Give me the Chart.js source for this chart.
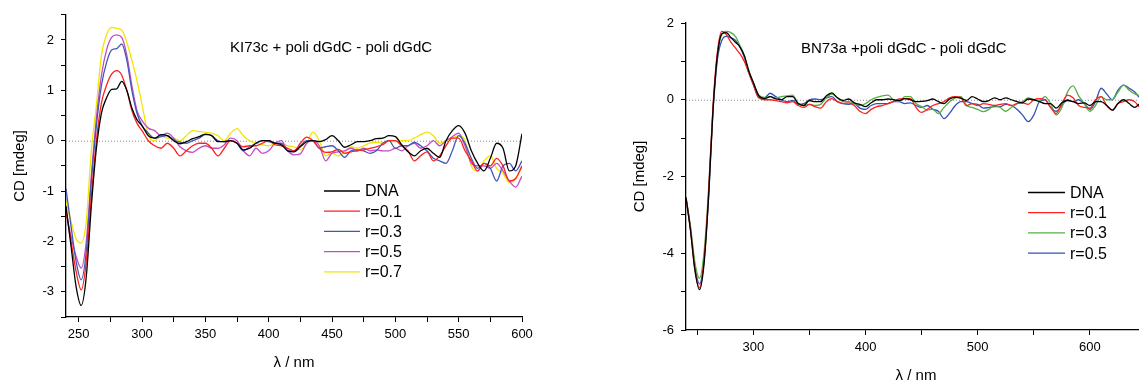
<!DOCTYPE html>
<html>
<head>
<meta charset="utf-8">
<script src="https://cdn.jsdelivr.net/npm/chart.js@4.4.1/dist/chart.umd.min.js"></script>
<style>
html, body { margin: 0; padding: 0; background: #fff; overflow: hidden; width: 1139px; height: 385px; }
canvas { position: absolute; top: 0; }
#leftChart { left: 0; }
#rightChart { left: 600px; }
</style>
</head>
<body>
<canvas id="leftChart" width="560" height="385"></canvas>
<canvas id="rightChart" width="560" height="385"></canvas>
<script>
// ---- left panel: KI73c ----
const wlLeft = [240,244,248,252,256,260,264,268,272,276,280,284,288,292,296,300,
  305,310,315,320,325,330,335,340,345,350,355,360,365,370,375,380,385,390,395,400,
  405,410,415,420,425,430,435,440,445,450,455,460,465,470,475,480,485,490,495,500,
  505,510,515,520,525,530,535,540,545,550,555,560,565,570,575,580,585,590,595,600];
const seriesLeft = ['DNA', 'r=0.1', 'r=0.3', 'r=0.5', 'r=0.7'];
const xTicksLeft = [250,275,300,325,350,375,400,425,450,475,500,525,550,575,600];
const xLabelsLeft = [250,300,350,400,450,500,550,600];
const yTicksLeft = [-3.5,-3,-2.5,-2,-1.5,-1,-0.5,0,0.5,1,1.5,2,2.5];
const yLabelsLeft = [-3,-2,-1,0,1,2];

const dnaLeft = [-1.3,-2.1,-2.9,-3.27,-2.7,-1.3,-0.15,0.55,0.85,1.02,1.03,1.18,1.0,0.65,0.42,0.3,
  0.1,0.05,0.12,0.1,0.0, -0.06,-0.02,0.04,0.08,0.13, 0.1,-0.02,-0.02,0.0,-0.05, -0.18,-0.15,-0.05,0.0,0.0,
  -0.05,-0.08,-0.2,-0.22,-0.12, -0.02,0.0,-0.02,0.02,0.1, 0.0,-0.13,-0.08,-0.02,-0.02, 0.0,0.04,0.05,0.1,0.08,
  -0.08,-0.22,-0.3,-0.2,-0.15, -0.25,-0.33,0.0,0.2,0.3, 0.15,-0.2,-0.45,-0.6,-0.35, -0.05,-0.15,-0.6,-0.5,0.14];
const r01Left = [-1.4,-2.0,-2.6,-2.96,-2.4,-1.1,0.0,0.75,1.1,1.32,1.39,1.3,1.0,0.6,0.35,0.2,
  0.0,-0.1,-0.15,-0.05,-0.15, -0.3,-0.2,-0.1,-0.05,-0.05, -0.15,-0.3,-0.15,0.0,-0.05, -0.12,-0.1,-0.1,-0.05,0.0,
  -0.08,-0.1,-0.15,-0.2,-0.05, 0.07,0.0,-0.15,-0.23,-0.22, -0.17,-0.25,-0.22,-0.2,-0.18, -0.15,-0.12,-0.08,0.0,0.0,
  -0.1,-0.2,-0.4,-0.3,-0.22, -0.4,-0.3,-0.1,0.05,0.05, -0.2,-0.4,-0.6,-0.45,-0.5, -0.35,-0.5,-0.8,-0.75,-0.5];
const r03Left = [-0.95,-1.7,-2.4,-2.76,-2.2,-0.8,0.3,1.1,1.55,1.8,1.83,1.92,1.6,1.0,0.55,0.3,
  0.15,0.05,0.08,0.1,0.02, -0.03,-0.05,0.0,0.05,0.12, 0.1,0.0,-0.02,0.0,-0.05, -0.2,-0.12,-0.05,0.0,-0.02,
  -0.05,-0.05,-0.2,-0.2,-0.1, 0.0,0.0,-0.15,-0.12,-0.1, -0.2,-0.33,-0.2,-0.18,-0.2, -0.25,-0.2,-0.05,0.0,-0.15,
  -0.1,-0.1,-0.03,-0.1,-0.2, -0.35,-0.4,-0.45,-0.2,0.1, -0.05,-0.35,-0.55,-0.45,-0.55, -0.8,-0.5,-0.45,-0.6,-0.4];
const r05Left = [-1.4,-1.9,-2.3,-2.53,-2.0,-0.7,0.45,1.3,1.8,2.05,2.1,2.05,1.7,1.1,0.6,0.4,
  0.25,0.2,0.1,0.15,0.05, -0.12,-0.2,-0.23,-0.15,-0.1, -0.15,-0.15,-0.08,0.05,0.0, -0.2,-0.3,-0.15,-0.25,-0.2,
  -0.05,0.0,-0.2,-0.28,-0.26, -0.05,0.0,-0.1,-0.4,-0.25, -0.22,-0.2,-0.15,-0.2,-0.15, -0.2,-0.18,-0.2,-0.2,-0.15,
  -0.2,-0.1,-0.05,-0.15,-0.1, 0.0,-0.1,0.0,0.08,0.15, -0.1,-0.45,-0.5,-0.5,-0.55, -0.45,-0.6,-0.8,-0.92,-0.7];
const r07Left = [-1.21,-1.6,-1.95,-2.03,-1.6,-0.2,0.7,1.7,2.1,2.25,2.23,2.2,1.95,1.6,1.2,0.72,
  0.12,0.0,0.1,0.05,0.05, 0.0,0.1,0.2,0.18,0.17, 0.15,0.1,0.0,0.15,0.24, 0.1,0.0,-0.05,-0.08,-0.1,
  -0.06,-0.06,-0.1,-0.12,-0.18, -0.05,0.17,0.0,-0.3,-0.25, -0.3,-0.22,-0.12,-0.15,-0.1, -0.05,-0.03,-0.05,0.0,-0.02,
  0.0,0.0,0.05,0.12,0.17, 0.1,-0.05,0.0,0.05,0.1, 0.0,-0.5,-0.6,-0.4,-0.3, -0.55,-0.65,-0.83,-0.75,-0.52];

// ---- right panel: BN73a ----
const wlRight = [240,244,248,252,256,260,264,268,272,276,280,284,288,292,296,300,
  305,310,315,320,325,330,335,340,345,350,355,360,365,370,375,380,385,390,395,400,
  405,410,415,420,425,430,435,440,445,450,455,460,465,470,475,480,485,490,495,500,
  505,510,515,520,525,530,535,540,545,550,555,560,565,570,575,580,585,590,595,600,
  605,610,615,620,625,630,635,640,645,650];
const seriesRight = ['DNA', 'r=0.1', 'r=0.3', 'r=0.5'];
const xTicksRight = [250,300,350,400,450,500,550,600,650];
const xLabelsRight = [300,400,500,600];
const yTicksRight = [-6,-5,-4,-3,-2,-1,0,1,2];
const yLabelsRight = [-6,-4,-2,0,2];

const dnaRight = [-2.55,-3.4,-4.45,-4.95,-4.3,-2.6,-0.3,1.15,1.72,1.75,1.62,1.5,1.38,1.15,0.75,0.45,
  0.1,0.03,0.08,0.02,0.0, 0.08,0.08,-0.1,-0.15,-0.02, -0.05,-0.05,0.1,0.18,0.05, -0.02,0.02,-0.08,-0.12,-0.18,
  -0.08,0.0,0.0,0.02,0.0, -0.02,0.03,0.0,-0.05,-0.04, -0.02,0.02,-0.05,-0.1,0.02, 0.06,0.04,-0.02,0.08,0.02,
  -0.05,-0.02,0.05,0.0,0.05, 0.0,-0.05,-0.08,0.02,0.0, -0.05,-0.1,-0.1,-0.22,-0.08, -0.02,-0.05,-0.1,-0.08,-0.15,
  -0.05,-0.05,-0.15,-0.27,-0.1, 0.0,-0.1,-0.2,-0.1,-0.15];
const r01Right = [-2.55,-3.4,-4.45,-4.9,-4.2,-2.5,-0.2,1.25,1.78,1.7,1.5,1.35,1.2,1.0,0.7,0.4,
  0.05,0.0,0.0,-0.02,-0.05, -0.08,-0.05,-0.15,-0.2,-0.12, -0.18,-0.22,-0.05,0.03,-0.05, -0.1,-0.08,-0.15,-0.3,-0.36,
  -0.25,-0.18,-0.15,-0.1,-0.05, 0.02,0.03,0.03,-0.2,-0.33, -0.25,-0.15,-0.1,-0.05,0.05, 0.08,0.05,-0.15,-0.1,-0.15,
  -0.1,-0.12,-0.15,-0.12,-0.1, -0.15,-0.1,-0.08,-0.12,0.0, 0.03,0.0,-0.2,-0.36,-0.1, 0.12,0.05,-0.15,-0.2,-0.22,
  0.0,0.08,-0.15,-0.27,-0.1, -0.05,0.0,-0.05,-0.2,-0.1];
const r03Right = [-2.55,-3.3,-4.25,-4.65,-4.0,-2.4,-0.25,1.2,1.7,1.78,1.75,1.65,1.42,1.15,0.75,0.45,
  0.12,0.06,0.08,0.05,0.08, 0.1,0.12,-0.1,-0.15,-0.12, -0.15,-0.12,0.05,0.15,0.05, -0.05,-0.05,-0.1,-0.15,-0.1,
  0.0,0.06,0.1,0.12,0.0, -0.05,0.08,0.08,-0.1,-0.18, -0.27,-0.25,-0.36,-0.2,-0.05, 0.05,0.08,-0.15,-0.2,-0.25,
  -0.31,-0.25,-0.15,-0.2,-0.3, -0.2,-0.1,-0.05,0.05,0.0, -0.02,0.08,-0.1,-0.4,-0.2, 0.2,0.36,0.1,-0.1,-0.3,
  -0.15,0.08,0.0,0.0,0.2, 0.38,0.25,0.15,0.1,0.0];
const r05Right = [-2.55,-3.35,-4.35,-4.8,-4.2,-2.6,-0.35,1.05,1.55,1.65,1.62,1.55,1.38,1.1,0.7,0.4,
  0.05,0.05,0.17,0.08,0.0, -0.05,-0.02,-0.12,-0.1,0.0, 0.02,0.0,0.05,0.08,-0.05, -0.1,-0.12,-0.1,-0.22,-0.25,
  -0.15,-0.1,-0.1,-0.1,-0.05, -0.05,-0.1,-0.08,-0.15,-0.2, -0.15,-0.25,-0.3,-0.49,-0.35, -0.15,-0.05,-0.05,-0.1,-0.12,
  -0.22,-0.2,-0.18,-0.18,-0.12, -0.15,-0.25,-0.4,-0.57,-0.4, -0.05,0.0,-0.2,-0.3,-0.15, 0.0,-0.05,0.0,-0.1,-0.25,
  -0.05,0.3,0.15,0.0,0.25, 0.38,0.3,0.2,0.05,0.1];

const FONT = 'Arial, "Liberation Sans", sans-serif';
Chart.defaults.font.family = FONT;
Chart.defaults.color = '#000';

function pairs(xs, ys) {
    return xs.map((x, i) => ({ x: x, y: ys[i] }));
}

function makeDatasets(xs, names, values, colors) {
    return names.map((name, i) => ({
        label: name,
        data: pairs(xs, values[i]),
        borderColor: colors[i],
        backgroundColor: colors[i],
        borderWidth: 1.3,
        pointRadius: 0,
        fill: false,
        cubicInterpolationMode: 'monotone'
    }));
}

// zero line, title text and the line legend inside the plot
const decorPlugin = {
    id: 'decor',
    beforeDatasetsDraw(chart, args, opts) {
        const ctx = chart.ctx;
        const area = chart.chartArea;
        const y0 = chart.scales.y.getPixelForValue(0);
        ctx.save();
        ctx.strokeStyle = '#8a8a8a';
        ctx.lineWidth = 1;
        ctx.setLineDash([1, 2]);
        ctx.beginPath();
        ctx.moveTo(area.left, y0 + 0.5);
        ctx.lineTo(area.right, y0 + 0.5);
        ctx.stroke();
        ctx.restore();
    },
    afterDatasetsDraw(chart, args, opts) {
        const ctx = chart.ctx;
        ctx.save();
        ctx.fillStyle = '#000';
        ctx.textBaseline = 'middle';
        ctx.textAlign = 'left';
        ctx.font = '15px ' + FONT;
        ctx.fillText(opts.title, opts.titleX, opts.titleY);
        ctx.font = '16px ' + FONT;
        chart.data.datasets.forEach((ds, i) => {
            const y = opts.rowY + i * opts.rowGap;
            ctx.strokeStyle = ds.borderColor;
            ctx.lineWidth = 1.3;
            ctx.beginPath();
            ctx.moveTo(opts.lineX1, y);
            ctx.lineTo(opts.lineX2, y);
            ctx.stroke();
            ctx.fillText(ds.label, opts.textX, y + 1);
        });
        ctx.restore();
    }
};

function axis(min, max, tickValues, labelValues, titleText, titlePad, isX, size) {
    return {
        type: 'linear',
        min: min,
        max: max,
        border: { color: '#000', width: 1.3 },
        grid: { drawOnChartArea: false, drawTicks: true, tickLength: 5, tickColor: '#000', tickWidth: 1 },
        afterBuildTicks: function(s) { s.ticks = tickValues.map(v => ({ value: v })); },
        ticks: {
            autoSkip: false,
            maxRotation: 0,
            padding: isX ? 5 : 7,
            color: '#000',
            font: { size: 13 },
            callback: function(v) { return labelValues.indexOf(v) >= 0 ? String(v) : ''; }
        },
        title: {
            display: true, text: titleText, color: '#000', font: { size: 15 },
            padding: isX ? { top: 0, bottom: titlePad } : { top: titlePad, bottom: 0 }
        },
        afterFit: function(s) { if (isX) { s.height = size; } else { s.width = size; } }
    };
}

new Chart(document.getElementById('leftChart'), {
    type: 'line',
    data: {
        datasets: makeDatasets(wlLeft, seriesLeft,
            [dnaLeft, r01Left, r03Left, r05Left, r07Left],
            ['#000000', '#ff2020', '#4257b8', '#c24cc2', '#f2e600'])
    },
    options: {
        responsive: false,
        animation: false,
        layout: { padding: { left: 0, right: 38, top: 14, bottom: 0 } },
        plugins: {
            legend: { display: false },
            tooltip: { enabled: false },
            decor: {
                title: 'KI73c + poli dGdC - poli dGdC', titleX: 230, titleY: 48,
                lineX1: 324, lineX2: 360, textX: 365, rowY: 191, rowGap: 20.2
            }
        },
        scales: {
            x: axis(240, 600, xTicksLeft, xLabelsLeft, 'λ / nm', 13, true, 68),
            y: axis(-3.5, 2.5, yTicksLeft, yLabelsLeft, 'CD [mdeg]', 11, false, 66)
        }
    },
    plugins: [decorPlugin]
});

new Chart(document.getElementById('rightChart'), {
    type: 'line',
    data: {
        datasets: makeDatasets(wlRight, seriesRight,
            [dnaRight, r01Right, r03Right, r05Right],
            ['#000000', '#ff2020', '#55b043', '#3352b5'])
    },
    options: {
        responsive: false,
        animation: false,
        layout: { padding: { left: 0, right: 14, top: 23, bottom: 0 } },
        plugins: {
            legend: { display: false },
            tooltip: { enabled: false },
            decor: {
                title: 'BN73a +poli dGdC - poli dGdC', titleX: 201, titleY: 49,
                lineX1: 428, lineX2: 465, textX: 470, rowY: 192.5, rowGap: 20.2
            }
        },
        scales: {
            x: axis(240, 650, xTicksRight, xLabelsRight, 'λ / nm', 0, true, 55),
            y: axis(-6, 2, yTicksRight, yLabelsRight, 'CD [mdeg]', 31, false, 86)
        }
    },
    plugins: [decorPlugin]
});
</script>
</body>
</html>
